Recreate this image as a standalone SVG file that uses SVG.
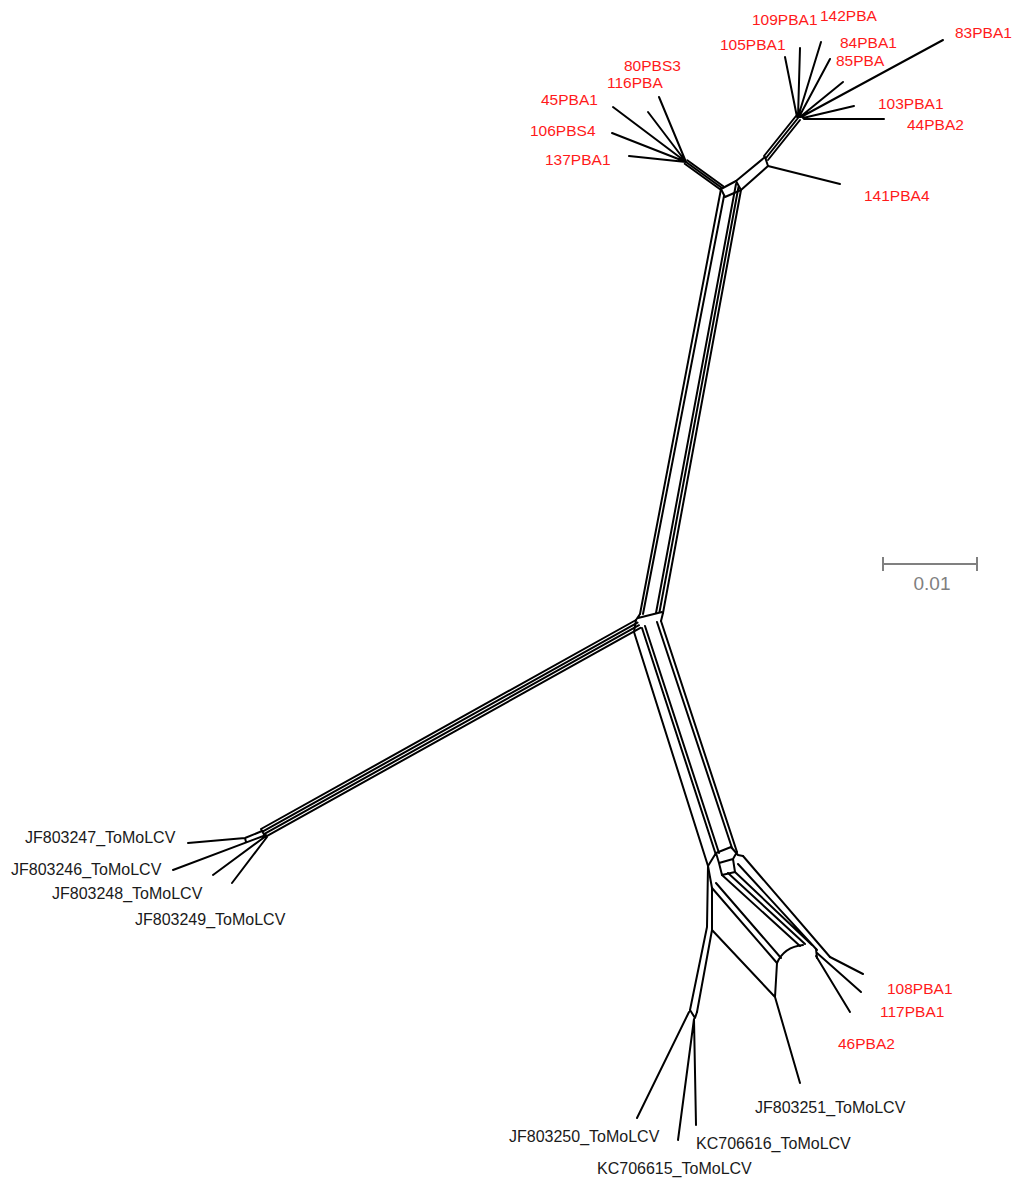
<svg xmlns="http://www.w3.org/2000/svg" width="1014" height="1181" viewBox="0 0 1014 1181">
<style>
.e{fill:none;stroke:#000;stroke-width:2;stroke-linecap:round;stroke-linejoin:round}
.r{font-family:"Liberation Sans",Arial,sans-serif;font-size:15.5px;fill:#ff1a1a}
.k{font-family:"Liberation Sans",Arial,sans-serif;font-size:16px;fill:#1a1a1a}
.s{fill:none;stroke:#808080;stroke-width:2}
</style>
<rect width="1014" height="1181" fill="#fff"/>
<g id="network" class="e">
<!-- upper left cluster leaves -->
<path d="M686,162L659,97M686,162L648,112M686,162L613,107M686,162L612,133M686,162L629,156"/>
<!-- left stem -->
<path d="M686,162L722,188M684.7,163.8L720.7,189.8M687.3,160.2L723.3,186.2"/>
<!-- top box -->
<path d="M721,189L736,181L741,190L725,197Z"/>
<!-- right stem -->
<path d="M736,181L765,157M741,190L768,166M765,157L768,166"/>
<path d="M764,156L796,116M766,158L798,118M768,160L800,120"/>
<path d="M768,166L840,184"/>
<!-- upper right cluster leaves -->
<path d="M797,117L785,57M798,117L800,48M798,117L821,42M799,117L830,59M800,117L843,82M801,117L943,40M803,118L854,106M804,119L884,119"/>
<!-- top bundle -->
<path d="M721,189L640,614M724,196L643,614M736,184L656,613M738.5,187L659.5,612M741,190L663,613"/>
<!-- centre -->
<path d="M638,618L662,612M640,614L636,620M663,613L661,621"/>
<!-- left branch -->
<path d="M636,620L261,829M637.5,622.6L262.5,831.6M639,625.2L264,834.2M640.4,627.9L265.4,836.9M261,829L265.4,836.9"/>
<!-- lower left leaves -->
<path d="M262,831L245,838L188,843M245,838L246,842M266,835L173,870M266,836L213,875M267,837L232,883"/>
<!-- lower branch -->
<path d="M636,620L634,632L708,866M642,628L716,855M645,626L719,853M657,622L732,848M661,621L737,852"/>
<!-- lower junction boxes -->
<path d="M708,866L716,853L731,847L738,855L743,856M716,853L719,863L733,859L737,852M719,863L722,875L735,872L733,859M708,866L712,888"/>
<!-- bundle to right leaves -->
<path d="M712,888L777,963M716,883L781,958M722,875L800,946M728,873L805,944M735,872L812,945M738,864L817,950M743,856L830,957"/>
<path d="M777,963Q784,947 803,945"/>
<path d="M816,949L817,958"/>
<!-- right leaves -->
<path d="M830,957L863,974M817,953L861,992M816,956L850,1012"/>
<!-- left descending lines -->
<path d="M708,866L707,927L690,1010M712,888L712,930L697,1012M712,930L775,997M777,963L775,997L800,1083"/>
<!-- bottom -->
<path d="M690,1010L695,1018L697,1012M689,1012L637,1118M694,1019L678,1140M694,1019L696,1125"/>
</g>
<g id="scale-bar">
<path class="s" d="M883,564H977M883,557V571M977,557V571"/>
<text x="932" y="590" text-anchor="middle" style="font-family:'Liberation Sans',Arial,sans-serif;font-size:19px;fill:#808080">0.01</text>
</g>
<g id="t-80PBS3"><text class="r" x="624" y="71">80PBS3</text></g>
<g id="t-116PBA"><text class="r" x="607" y="88">116PBA</text></g>
<g id="t-45PBA1"><text class="r" x="541" y="105">45PBA1</text></g>
<g id="t-106PBS4"><text class="r" x="530" y="136">106PBS4</text></g>
<g id="t-137PBA1"><text class="r" x="545" y="165">137PBA1</text></g>
<g id="t-109PBA1"><text class="r" x="752" y="25">109PBA1</text></g>
<g id="t-142PBA"><text class="r" x="820" y="21">142PBA</text></g>
<g id="t-105PBA1"><text class="r" x="720" y="50">105PBA1</text></g>
<g id="t-84PBA1"><text class="r" x="840" y="48">84PBA1</text></g>
<g id="t-85PBA"><text class="r" x="836" y="66">85PBA</text></g>
<g id="t-83PBA1"><text class="r" x="955" y="38">83PBA1</text></g>
<g id="t-103PBA1"><text class="r" x="878" y="109">103PBA1</text></g>
<g id="t-44PBA2"><text class="r" x="907" y="130">44PBA2</text></g>
<g id="t-141PBA4"><text class="r" x="864" y="201">141PBA4</text></g>
<g id="t-108PBA1"><text class="r" x="887" y="994">108PBA1</text></g>
<g id="t-117PBA1"><text class="r" x="880" y="1017">117PBA1</text></g>
<g id="t-46PBA2"><text class="r" x="838" y="1049">46PBA2</text></g>
<g id="t-JF803247"><text class="k" x="25" y="843">JF803247_ToMoLCV</text></g>
<g id="t-JF803246"><text class="k" x="11" y="875">JF803246_ToMoLCV</text></g>
<g id="t-JF803248"><text class="k" x="52" y="899">JF803248_ToMoLCV</text></g>
<g id="t-JF803249"><text class="k" x="135" y="925">JF803249_ToMoLCV</text></g>
<g id="t-JF803251"><text class="k" x="755" y="1113">JF803251_ToMoLCV</text></g>
<g id="t-JF803250"><text class="k" x="509" y="1142">JF803250_ToMoLCV</text></g>
<g id="t-KC706616"><text class="k" x="696" y="1149">KC706616_ToMoLCV</text></g>
<g id="t-KC706615"><text class="k" x="597" y="1174">KC706615_ToMoLCV</text></g>
</svg>
